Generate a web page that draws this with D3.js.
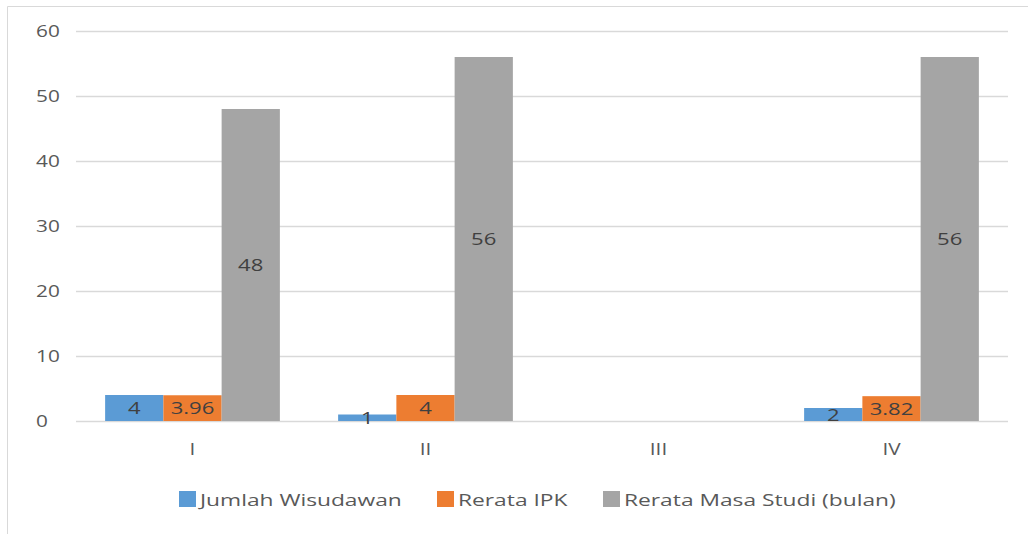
<!DOCTYPE html>
<html>
<head>
<meta charset="utf-8">
<script src="https://cdn.jsdelivr.net/npm/d3@7"></script>
<style>
  body { margin: 0; background: #fff; }
  text { font-family: "Open Sans", sans-serif; }
</style>
</head>
<body>
<script>
// data
var categories = ["I", "II", "III", "IV"];
var seriesNames = ["Jumlah Wisudawan", "Rerata IPK", "Rerata Masa Studi (bulan)"];
var jumlahWisudawan = [4, 1, null, 2];
var rerataIPK = [3.96, 4, null, 3.82];
var rerataMasaStudi = [48, 56, null, 56];
var yTicks = [0, 10, 20, 30, 40, 50, 60];
var colors = ["#5b9bd5", "#ed7d31", "#a5a5a5"];

var width = 1028, height = 534;
var stretch = 1.3; // the picture's text is wide

var table = categories.map(function(c, i) {
  return { cat: c, values: [jumlahWisudawan[i], rerataIPK[i], rerataMasaStudi[i]] };
});

var svg = d3.select("body").append("svg")
  .attr("width", width)
  .attr("height", height);

// chart border (left + top)
svg.append("path")
  .attr("d", "M7.5," + height + "V6.5H" + width)
  .attr("fill", "none")
  .attr("stroke", "#d9d9d9");

var x0 = d3.scaleBand()
  .domain(categories)
  .range([76, 1008])
  .paddingInner(0.25)
  .paddingOuter(0.125);

var x1 = d3.scaleBand()
  .domain(d3.range(seriesNames.length))
  .range([0, x0.bandwidth()]);

var y = d3.scaleLinear().domain([0, 60]).range([421, 31]);

// y axis + gridlines
var yAxis = svg.append("g")
  .attr("transform", "translate(76,0)")
  .call(d3.axisLeft(y).tickValues(yTicks).tickSize(-932).tickPadding(0));
yAxis.select(".domain").remove();
yAxis.selectAll(".tick line").attr("stroke", "#d9d9d9").attr("stroke-width", 1.3);
yAxis.selectAll(".tick text")
  .attr("x", 0)
  .attr("text-anchor", "start")
  .attr("transform", "translate(-40,0) scale(" + stretch + ",1)")
  .attr("fill", "#595959")
  .style("font-size", "16px")
  .style("font-family", "'Open Sans', sans-serif");

// category axis
var xAxis = svg.append("g")
  .attr("transform", "translate(0,421)")
  .call(d3.axisBottom(x0).tickSize(0).tickPadding(0));
xAxis.select(".domain").remove();
xAxis.selectAll(".tick text")
  .attr("y", 0)
  .attr("dy", null)
  .attr("transform", "translate(0,34) scale(" + stretch + ",1)")
  .attr("fill", "#595959")
  .style("font-size", "16px")
  .style("font-family", "'Open Sans', sans-serif");

// bars
var groups = svg.append("g").selectAll("g")
  .data(table)
  .join("g")
  .attr("transform", function(d) { return "translate(" + x0(d.cat) + ",0)"; });

var cells = groups.selectAll("g")
  .data(function(d) {
    return d.values.map(function(v, i) { return { i: i, v: v }; })
      .filter(function(e) { return e.v != null; });
  })
  .join("g");

cells.append("rect")
  .attr("x", function(d) { return x1(d.i); })
  .attr("width", x1.bandwidth())
  .attr("y", function(d) { return y(d.v); })
  .attr("height", function(d) { return y(0) - y(d.v); })
  .attr("fill", function(d) { return colors[d.i]; });

cells.append("text")
  .attr("transform", function(d) {
    return "translate(" + (x1(d.i) + x1.bandwidth() / 2) + "," + ((y(d.v) + y(0)) / 2) + ") scale(" + stretch + ",1)";
  })
  .attr("text-anchor", "middle")
  .attr("dy", "0.36em")
  .attr("fill", "#404040")
  .style("font-size", "17px")
  .text(function(d) { return String(d.v); });

// legend
var legendX = [179, 437, 603];
var legend = svg.append("g").selectAll("g")
  .data(seriesNames)
  .join("g")
  .attr("transform", function(d, i) { return "translate(" + legendX[i] + ",491)"; });

legend.append("rect")
  .attr("width", 17)
  .attr("height", 16)
  .attr("fill", function(d, i) { return colors[i]; });

legend.append("text")
  .attr("transform", "translate(21,15) scale(1.34,1)")
  .attr("fill", "#595959")
  .style("font-size", "17px")
  .text(function(d) { return d; });
</script>
</body>
</html>
